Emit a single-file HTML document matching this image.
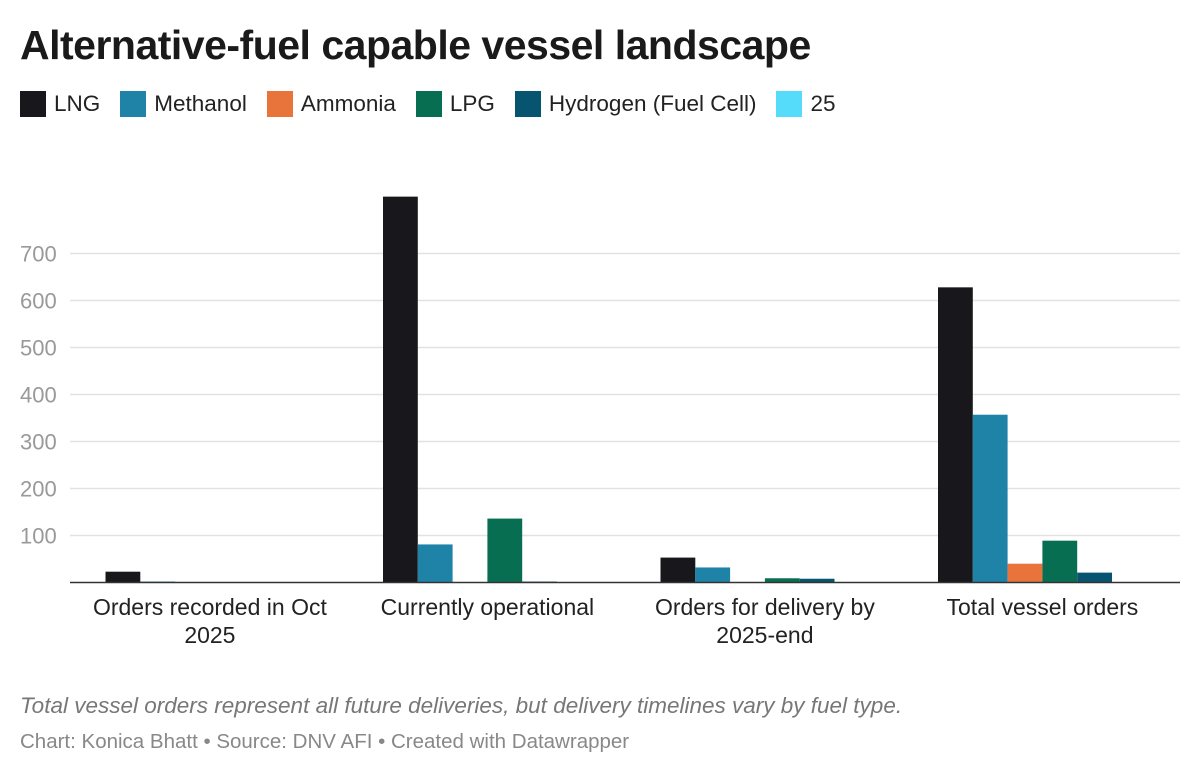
<!DOCTYPE html>
<html><head><meta charset="utf-8"><style>
body{margin:0;width:1200px;height:774px;background:#fff;font-family:"Liberation Sans",sans-serif;overflow:hidden;position:relative}
.t{position:absolute;left:20px;top:22px;font-size:41px;font-weight:bold;color:#1a1a1a;letter-spacing:-0.5px}
.legend{position:absolute;left:20px;top:91px;display:flex;font-size:22.5px;color:#222}
.li{display:flex;align-items:center;margin-right:20px}
.sw{width:26px;height:26px;margin-right:8px}
.note{position:absolute;left:20px;top:693px;font-size:22.5px;font-style:italic;color:#777}
.src{position:absolute;left:20px;top:730px;font-size:20.5px;color:#888}
</style></head><body>
<div class="t">Alternative-fuel capable vessel landscape</div>
<div class="legend" id="legend"></div>
<svg id="chart" width="1200" height="774" style="position:absolute;left:0;top:0"></svg>
<div class="note">Total vessel orders represent all future deliveries, but delivery timelines vary by fuel type.</div>
<div class="src">Chart: Konica Bhatt • Source: DNV AFI • Created with Datawrapper</div>
<script>
const categories=[["Orders recorded in Oct","2025"],["Currently operational"],["Orders for delivery by","2025-end"],["Total vessel orders"]];
const seriesNames=["LNG","Methanol","Ammonia","LPG","Hydrogen (Fuel Cell)","25"];
const colors=["#18181c","#1f83a8","#e8743b","#076e52","#06546f","#55dcfb"];
const lng=[23,821,53,628];
const methanol=[2,81,32,357];
const ammonia=[0,1,0,40];
const lpg=[0,136,9,89];
const hydrogen=[0,2,8,21];
const s25=[0,0,0,0];
const yTicks=[100,200,300,400,500,600,700];
const series=[lng,methanol,ammonia,lpg,hydrogen,s25];
const NS="http://www.w3.org/2000/svg";
const svg=document.getElementById('chart');
const y=v=>582.5-v*0.47;
const groupStart=i=>105.5+i*277.5;
const barW=34.8;
function mk(tag,attrs){const e=document.createElementNS(NS,tag);for(const k in attrs)e.setAttribute(k,attrs[k]);svg.appendChild(e);return e;}
const leg=document.getElementById('legend');
seriesNames.forEach((n,i)=>{const d=document.createElement('div');d.className='li';


d.innerHTML='<div class="sw" style="background:'+colors[i]+'"></div>'+n;leg.appendChild(d);});
yTicks.forEach(t=>{
const g=mk('line',{x1:70,x2:1180,y1:y(t),y2:y(t),stroke:'#e2e2e2','stroke-width':1.5});


const tx=mk('text',{x:20,y:y(t)+8,'font-size':22,fill:'#999'});tx.textContent=t;


});
series.forEach((s,si)=>s.forEach((v,ci)=>{
const r=mk('rect',{x:groupStart(ci)+si*barW,y:y(v),width:barW,height:582.5-y(v),fill:colors[si]});


}));
const ax=mk('line',{x1:70,x2:1180,y1:582.5,y2:582.5,stroke:'#333','stroke-width':1.5});


categories.forEach((c,i)=>{c.forEach((ln,j)=>{
const tx=mk('text',{x:groupStart(i)+3*barW,y:615+j*28,'font-size':23,fill:'#222','text-anchor':'middle'});tx.textContent=ln;


});});
</script>
</body></html>
